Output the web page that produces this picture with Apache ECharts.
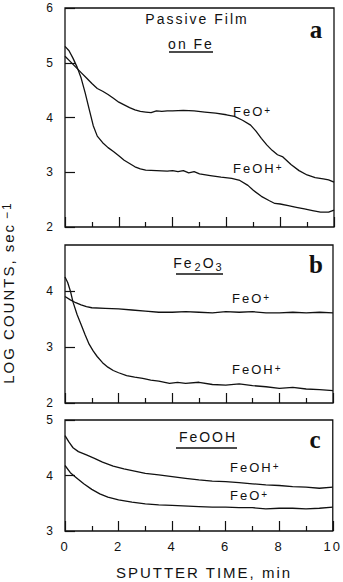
<!DOCTYPE html>
<html><head><meta charset="utf-8">
<script src="https://cdn.jsdelivr.net/npm/echarts@6/dist/echarts.min.js"></script>
<style>html,body{margin:0;padding:0;background:#fff}#chart{width:343px;height:582px}#chart text{letter-spacing:2px}</style>
</head><body><div id="chart"></div>
<script>
// ---- data (sputter time in min, log counts) ----
const xTickLabels = ['0', '2', '4', '6', '8', '10'];
const yTicksA = ['2', '3', '4', '5', '6'];
const yTicksB = ['2', '3', '4'];
const yTicksC = ['3', '4', '5'];

// Panel a: Passive film on Fe
const aFeOTime = [0,0.2,0.4,0.6,0.8,1.0,1.2,1.4,1.6,1.8,2.0,2.2,2.4,2.6,2.8,3.0,3.2,3.4,3.6,3.8,4.0,4.4,4.8,5.2,5.6,6.0,6.3,6.6,6.9,7.1,7.3,7.5,7.7,7.9,8.1,8.4,8.7,9.0,9.3,9.6,9.8,10];
const aFeOLog  = [5.12,5.02,4.92,4.82,4.72,4.62,4.53,4.48,4.42,4.35,4.28,4.23,4.18,4.14,4.11,4.10,4.09,4.12,4.11,4.12,4.12,4.13,4.12,4.10,4.08,4.05,4.02,3.95,3.86,3.75,3.62,3.50,3.40,3.32,3.28,3.14,3.03,2.95,2.90,2.88,2.86,2.82];
const aFeOHTime = [0,0.15,0.3,0.45,0.6,0.75,0.9,1.05,1.2,1.4,1.6,1.8,2.0,2.2,2.4,2.6,2.8,3.0,3.4,3.8,4.0,4.2,4.4,4.6,4.8,5.0,5.4,5.8,6.2,6.5,6.8,7.0,7.3,7.6,7.8,8.0,8.3,8.6,8.9,9.2,9.5,9.8,10];
const aFeOHLog  = [5.30,5.22,5.08,4.92,4.72,4.45,4.15,3.85,3.66,3.54,3.45,3.38,3.30,3.22,3.16,3.10,3.06,3.04,3.03,3.02,3.03,3.01,3.03,2.99,3.01,2.97,2.94,2.91,2.89,2.85,2.76,2.67,2.56,2.48,2.43,2.42,2.39,2.36,2.33,2.30,2.27,2.27,2.31];

// Panel b: Fe2O3
const bFeOTime = [0,0.2,0.4,0.6,0.8,1.0,1.5,2.0,2.5,3.0,3.5,4.0,4.5,5.0,5.5,6.0,6.5,7.0,7.5,8.0,8.5,9.0,9.5,10];
const bFeOLog  = [3.90,3.84,3.79,3.75,3.72,3.70,3.69,3.68,3.66,3.64,3.62,3.62,3.63,3.62,3.61,3.63,3.62,3.63,3.61,3.61,3.62,3.61,3.62,3.61];
const bFeOHTime = [0,0.1,0.2,0.3,0.45,0.6,0.75,0.9,1.05,1.2,1.4,1.6,1.8,2.0,2.3,2.6,2.9,3.2,3.5,3.9,4.2,4.5,5.0,5.5,6.0,6.5,7.0,7.5,8.0,8.5,9.0,9.5,10];
const bFeOHLog  = [4.25,4.15,4.00,3.80,3.58,3.40,3.22,3.05,2.93,2.83,2.72,2.64,2.58,2.54,2.49,2.46,2.44,2.41,2.39,2.35,2.37,2.35,2.37,2.33,2.32,2.34,2.31,2.29,2.26,2.28,2.25,2.24,2.22];

// Panel c: FeOOH
const cFeOHTime = [0,0.15,0.3,0.5,0.8,1.1,1.4,1.8,2.2,2.6,3.0,3.5,4.0,4.5,5.0,5.5,6.0,6.5,7.0,7.5,8.0,8.5,9.0,9.5,10];
const cFeOHLog  = [4.72,4.60,4.50,4.43,4.37,4.31,4.24,4.17,4.12,4.08,4.04,4.01,3.98,3.95,3.92,3.90,3.89,3.87,3.85,3.83,3.82,3.80,3.79,3.77,3.79];
const cFeOTime = [0,0.2,0.4,0.7,1.0,1.3,1.6,2.0,2.5,3.0,3.5,4.0,5.0,5.5,6.0,6.5,7.0,7.5,8.0,8.5,9.0,9.5,10];
const cFeOLog  = [4.18,4.05,3.97,3.85,3.75,3.67,3.61,3.56,3.52,3.49,3.47,3.46,3.44,3.43,3.43,3.42,3.42,3.40,3.41,3.41,3.40,3.41,3.43];

// ---- chart ----
const INK = '#111';
const LS = 2; // matches the CSS letter-spacing
const SANS = "'Liberation Sans', Arial, 'DejaVu Sans', sans-serif";
const SERIF = "'Liberation Serif', 'Times New Roman', serif";
const zip = (xs, ys) => xs.map((x, i) => [x, ys[i]]);

const grids = [
  {left: 65, top: 8, width: 269, height: 219},
  {left: 65, top: 245, width: 268, height: 158},
  {left: 65, top: 420, width: 268, height: 111}
].map(g => Object.assign(g, {show: true, borderColor: INK, borderWidth: 1.3, backgroundColor: 'transparent'}));

function xAxisFor(i) {
  return {
    type: 'value', gridIndex: i, min: 0, max: 10, interval: 2,
    axisLine: {show: false},
    axisTick: {show: true, inside: true, length: 10, lineStyle: {color: INK, width: 1.2}},
    minorTick: {show: true, splitNumber: 2, length: 5, lineStyle: {color: INK, width: 1.2}},
    splitLine: {show: false}, minorSplitLine: {show: false},
    axisLabel: {
      show: i === 2, color: INK, fontSize: 13, fontFamily: SANS, margin: 9,
      formatter: v => xTickLabels[Math.round(v / 2)]
    }
  };
}
function yAxisFor(i, min, max, labels) {
  return {
    type: 'value', gridIndex: i, min: min, max: max, interval: 1,
    axisLine: {show: false},
    axisTick: {show: true, inside: true, length: 10, lineStyle: {color: INK, width: 1.2}},
    splitLine: {show: false},
    axisLabel: {
      color: INK, fontSize: 12, fontFamily: SANS, margin: 10,
      showMaxLabel: Number.isInteger(max),
      formatter: v => labels[Math.round(v - min)] || ''
    }
  };
}
const lineSeries = (xi, xs, ys) => ({
  type: 'line', xAxisIndex: xi, yAxisIndex: xi, data: zip(xs, ys),
  symbol: 'none', showSymbol: false, smooth: false,
  lineStyle: {color: INK, width: 1.3}, silent: true
});

// rich-text label: m = main, s = superscript, d = subscript; padding compensates the letter spacing
function richLabel(x, y, parts, size, align, extra, trim) {
  const rich = {};
  const text = parts.map(([kind, str], k) => {
    const key = kind + k;
    const n = str.length;
    const small = kind !== 'm';
    rich[key] = {
      fontSize: small ? size - 3 : size, fontFamily: SANS, fill: INK,
      lineHeight: small ? size - 6 : size + 3,
      verticalAlign: kind === 'd' ? 'bottom' : 'top',
      padding: [0, Math.max(0, n * LS - (k === 0 && trim ? trim : 0)), 0, 0]
    };
    return '{' + key + '|' + str + '}';
  }).join('');
  return Object.assign({
    type: 'text', x: x, y: y, silent: true,
    style: {text: text, rich: rich, fill: INK, fontSize: size, fontFamily: SANS, align: align || 'left', verticalAlign: 'middle'}
  }, extra || {});
}
const txt = (x, y, text, opt) => ({
  type: 'text', x: x, y: y, silent: true,
  style: Object.assign({text: text, fill: INK, fontSize: 13, fontFamily: SANS, align: 'left', verticalAlign: 'middle'}, opt || {})
});
const uline = (x1, x2, y) => ({type: 'line', silent: true, shape: {x1: x1, y1: y, x2: x2, y2: y}, style: {stroke: INK, lineWidth: 1.3}});
const panelLetter = (x, y, t) => txt(x, y, t, {align: 'center', fontSize: 25, fontWeight: 'bold', fontFamily: SERIF});

const graphics = [
  txt(197, 19, 'Passive Film', {align: 'center', fontSize: 14}),
  txt(191, 44, 'on Fe', {align: 'center', fontSize: 14}),
  uline(169, 213, 52),
  panelLetter(317, 29, 'a'),
  richLabel(233, 113, [['m', 'FeO'], ['s', '+']], 13),
  richLabel(233, 170, [['m', 'FeOH'], ['s', '+']], 13),

  richLabel(200, 264, [['m', 'Fe'], ['d', '2'], ['m', 'O'], ['d', '3']], 14, 'center'),
  uline(176, 223, 274),
  panelLetter(317, 264, 'b'),
  richLabel(232, 300, [['m', 'FeO'], ['s', '+']], 13),
  richLabel(232, 371, [['m', 'FeOH'], ['s', '+']], 13),

  txt(208, 437, 'FeOOH', {align: 'center', fontSize: 14}),
  uline(176, 237, 448),
  panelLetter(316, 439, 'c'),
  richLabel(230, 469, [['m', 'FeOH'], ['s', '+']], 13),
  richLabel(230, 497, [['m', 'FeO'], ['s', '+']], 13),

  txt(204, 572, 'SPUTTER TIME, min', {align: 'center', fontSize: 15}),
  richLabel(10, 284, [['m', 'LOG COUNTS, sec'], ['s', '−1']], 15, 'center', {rotation: Math.PI / 2}, 9)
];

const chart = echarts.init(document.getElementById('chart'), null, {renderer: 'svg', width: 343, height: 582});
chart.setOption({
  animation: false,
  backgroundColor: '#fff',
  grid: grids,
  xAxis: [xAxisFor(0), xAxisFor(1), xAxisFor(2)],
  yAxis: [yAxisFor(0, 2, 6, yTicksA), yAxisFor(1, 2, 4.82, yTicksB), yAxisFor(2, 3, 5, yTicksC)],
  series: [
    lineSeries(0, aFeOTime, aFeOLog),
    lineSeries(0, aFeOHTime, aFeOHLog),
    lineSeries(1, bFeOTime, bFeOLog),
    lineSeries(1, bFeOHTime, bFeOHLog),
    lineSeries(2, cFeOHTime, cFeOHLog),
    lineSeries(2, cFeOTime, cFeOLog)
  ],
  graphic: graphics
});
</script></body></html>
